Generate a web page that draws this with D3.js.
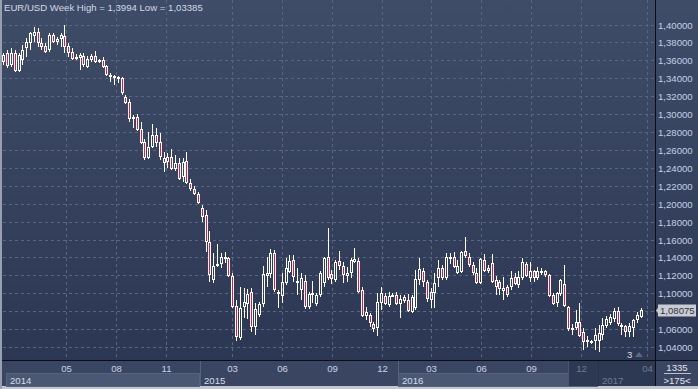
<!DOCTYPE html>
<html><head><meta charset="utf-8">
<script src="https://cdn.jsdelivr.net/npm/d3@7"></script>
<style>body{margin:0;background:#c3c7cf;} svg{display:block;font-family:"Liberation Sans",Arial,sans-serif;}</style>
</head><body><svg id="c" width="698" height="389"></svg>
<script>
// ---- data (weekly EUR/USD candles) ----
const weeks = d3.timeMonday.range(new Date(2014,0,6), new Date(2017,2,21));
const open = [
1.3581,1.3682,1.3548,1.3682,1.3481,1.3604,1.3738,1.3794,1.3872,1.3916,
1.3794,1.3760,1.3715,1.3883,1.3805,1.3838,1.3872,1.3760,1.3693,1.3626,
1.3626,1.3648,1.3526,1.3604,1.3648,1.3581,1.3604,1.3537,1.3414,1.3403,
1.3392,1.3403,1.3191,1.3135,1.2956,1.2967,1.2833,1.2688,1.2510,1.2632,
1.2766,1.2688,1.2510,1.2465,1.2521,1.2387,1.2454,1.2298,1.2476,1.2231,
1.2164,1.2108,1.1951,1.1873,1.1573,1.1148,1.1304,1.1327,1.1383,1.1394,
1.1193,1.0858,1.0500,1.0846,1.0880,1.1014,1.0623,1.0757,1.0880,1.1193,
1.1215,1.1450,1.1003,1.0969,1.1114,1.1237,1.1371,1.1126,1.1036,1.1137,
1.0846,1.0980,1.0880,1.0980,1.1114,1.1405,1.1215,1.1148,1.1360,1.1304,
1.1193,1.1226,1.1349,1.1360,1.1036,1.0746,1.0757,1.0656,1.0612,1.0891,
1.0969,1.0869,1.0969,1.0980,1.0880,1.0958,1.0925,1.0791,1.0835,1.1148,
1.1248,1.1126,1.0925,1.1003,1.1170,1.1282,1.1170,1.1394,1.1405,1.1226,
1.1237,1.1472,1.1405,1.1316,1.1226,1.1114,1.1371,1.1282,1.1338,1.1070,
1.1126,1.1025,1.1070,1.1070,1.1181,1.1092,1.1170,1.1327,1.1170,1.1248,
1.1170,1.1237,1.1248,1.1204,1.0980,1.0891,1.0992,1.1103,1.0846,1.0601,
1.0612,1.0679,1.0567,1.0467,1.0467,1.0467,1.0467,1.0534,1.0634,1.0668,
1.0712,1.0802,1.0645,1.0634,1.0567,1.0612,1.0701,1.0735];
const high = [
1.3682,1.3715,1.3738,1.3715,1.3682,1.3771,1.3849,1.3916,1.3972,1.3961,
1.3849,1.3794,1.3905,1.3905,1.3860,1.3905,1.3994,1.3794,1.3738,1.3671,
1.3682,1.3682,1.3648,1.3671,1.3704,1.3615,1.3637,1.3548,1.3459,1.3436,
1.3425,1.3414,1.3213,1.3168,1.2990,1.3001,1.2912,1.2722,1.2800,1.2889,
1.2845,1.2789,1.2577,1.2565,1.2610,1.2543,1.2510,1.2510,1.2577,1.2275,
1.2197,1.2130,1.1985,1.1929,1.1695,1.1450,1.1550,1.1450,1.1461,1.1405,
1.1226,1.0925,1.1070,1.1059,1.1047,1.1059,1.0891,1.0902,1.1304,1.1405,
1.1494,1.1483,1.1036,1.1226,1.1394,1.1427,1.1427,1.1282,1.1226,1.1204,
1.1014,1.1137,1.1003,1.1248,1.1405,1.1729,1.1260,1.1371,1.1472,1.1349,
1.1293,1.1394,1.1506,1.1394,1.1070,1.0846,1.0779,1.0679,1.1003,1.1070,
1.1003,1.1014,1.1003,1.1014,1.0980,1.0980,1.0992,1.0980,1.1260,1.1394,
1.1282,1.1148,1.1059,1.1226,1.1371,1.1316,1.1450,1.1450,1.1461,1.1371,
1.1472,1.1628,1.1450,1.1349,1.1282,1.1394,1.1438,1.1316,1.1438,1.1193,
1.1148,1.1181,1.1092,1.1248,1.1226,1.1248,1.1394,1.1349,1.1349,1.1260,
1.1293,1.1282,1.1260,1.1215,1.1003,1.1014,1.1159,1.1316,1.0858,1.0656,
1.0813,1.0891,1.0612,1.0523,1.0478,1.0612,1.0645,1.0723,1.0746,1.0768,
1.0835,1.0846,1.0668,1.0645,1.0668,1.0712,1.0791,1.0835];
const low = [
1.3548,1.3514,1.3526,1.3470,1.3470,1.3548,1.3637,1.3715,1.3805,1.3749,
1.3715,1.3682,1.3693,1.3794,1.3771,1.3749,1.3682,1.3637,1.3604,1.3604,
1.3492,1.3526,1.3514,1.3581,1.3570,1.3570,1.3514,1.3425,1.3358,1.3325,
1.3347,1.3213,1.3112,1.2912,1.2845,1.2811,1.2666,1.2487,1.2498,1.2621,
1.2632,1.2487,1.2353,1.2398,1.2376,1.2364,1.2264,1.2242,1.2219,1.2141,
1.2097,1.1996,1.1796,1.1461,1.1126,1.1114,1.1293,1.1282,1.1338,1.1181,
1.0835,1.0467,1.0478,1.0723,1.0712,1.0567,1.0534,1.0735,1.0846,1.1070,
1.1170,1.1014,1.0835,1.0891,1.1092,1.1226,1.1126,1.0980,1.0925,1.0824,
1.0824,1.0891,1.0858,1.0958,1.1070,1.1148,1.1103,1.1126,1.1260,1.1114,
1.1126,1.1170,1.1338,1.1003,1.0735,1.0701,1.0623,1.0567,1.0523,1.0813,
1.0869,1.0846,1.0958,1.0869,1.0723,1.0891,1.0791,1.0779,1.0813,1.1092,
1.1070,1.0902,1.0835,1.0835,1.1070,1.1148,1.1148,1.1327,1.1282,1.1215,
1.1226,1.1394,1.1293,1.1204,1.1103,1.1103,1.1237,1.1226,1.1114,1.0980,
1.0980,1.0925,1.0958,1.1036,1.1092,1.1059,1.1148,1.1181,1.1126,1.1126,
1.1148,1.1204,1.1181,1.0958,1.0869,1.0846,1.0969,1.0846,1.0578,1.0534,
1.0590,1.0511,1.0366,1.0400,1.0433,1.0366,1.0339,1.0478,1.0612,1.0645,
1.0679,1.0634,1.0534,1.0511,1.0511,1.0511,1.0668,1.0723];
const close = [
1.3660,1.3537,1.3682,1.3481,1.3660,1.3715,1.3805,1.3905,1.3916,1.3794,
1.3749,1.3693,1.3883,1.3805,1.3838,1.3883,1.3749,1.3682,1.3615,1.3637,
1.3660,1.3548,1.3615,1.3648,1.3581,1.3604,1.3526,1.3436,1.3436,1.3425,
1.3414,1.3235,1.3124,1.2945,1.2967,1.2822,1.2677,1.2510,1.2632,1.2766,
1.2677,1.2521,1.2454,1.2521,1.2387,1.2454,1.2275,1.2465,1.2231,1.2164,
1.2108,1.2007,1.1851,1.1573,1.1204,1.1304,1.1327,1.1405,1.1405,1.1193,
1.0846,1.0511,1.0835,1.0902,1.0992,1.0623,1.0824,1.0880,1.1215,1.1226,
1.1450,1.1036,1.1014,1.1126,1.1282,1.1360,1.1181,1.1137,1.1170,1.0846,
1.0992,1.1003,1.0980,1.1226,1.1394,1.1170,1.1159,1.1349,1.1304,1.1204,
1.1226,1.1371,1.1383,1.1014,1.0746,1.0791,1.0668,1.0601,1.0902,1.1003,
1.0880,1.0969,1.0980,1.0880,1.0936,1.0913,1.0802,1.0958,1.1159,1.1271,
1.1126,1.0936,1.1014,1.1114,1.1282,1.1170,1.1405,1.1405,1.1293,1.1304,
1.1461,1.1416,1.1316,1.1226,1.1114,1.1383,1.1248,1.1248,1.1126,1.1148,
1.1047,1.1059,1.0980,1.1170,1.1103,1.1181,1.1349,1.1193,1.1248,1.1170,
1.1248,1.1248,1.1204,1.0969,1.0880,1.1003,1.1148,1.0858,1.0601,1.0612,
1.0679,1.0523,1.0455,1.0478,1.0455,1.0534,1.0556,1.0645,1.0712,1.0735,
1.0802,1.0656,1.0623,1.0567,1.0634,1.0701,1.0757,1.08075];
const yTicks = [1.04,1.06,1.08,1.10,1.12,1.14,1.16,1.18,1.20,1.22,1.24,1.26,1.28,1.30,1.32,1.34,1.36,1.38,1.40];
const monthTicks = ["2014-05","2014-08","2014-11","2015-03","2015-06","2015-09","2015-12","2016-03","2016-06","2016-09","2016-12","2017-04"];
const years = [2014,2015,2016,2017];
const title = "EUR/USD Week High = 1,3994 Low = 1,03385";
const lastPrice = 1.08075;
const barCount = "1335", zoomText = ">175<", pageText = "3";
const dimFrom = new Date(2016,10,7);

// ---- layout ----
const W=698, H=389, L=3, R=655, B=360, AX=386;
const svg = d3.select("#c");
const x = d3.scaleTime().domain([weeks[0], weeks[weeks.length-1]]).range([3.3, 640.5]);
const y = d3.scaleLinear().domain([1.04, 1.40]).range([347, 24.5]);
const fmt = v => d3.format(".5f")(v).replace(".", ",");
const parseM = d3.timeParse("%Y-%m");

const defs = svg.append("defs");
const gr = defs.append("linearGradient").attr("id","bg").attr("gradientUnits","userSpaceOnUse")
  .attr("x1",0).attr("y1",0).attr("x2",0).attr("y2",B);
gr.append("stop").attr("offset",0).attr("stop-color","#3f4c68");
gr.append("stop").attr("offset",1).attr("stop-color","#2c3853");

svg.append("rect").attr("width",W).attr("height",H).attr("fill","#c3c7cf");
svg.append("rect").attr("x",0).attr("y",0).attr("width",2).attr("height",H).attr("fill","#98a0b0");
svg.append("rect").attr("x",2).attr("y",0).attr("width",W-2).attr("height",B).attr("fill","url(#bg)");
svg.append("rect").attr("x",2).attr("y",B).attr("width",W-2).attr("height",AX-B).attr("fill","#3a4661");

// grid
const grid = svg.append("g").attr("stroke","#5a6680").attr("stroke-dasharray","3,3").attr("stroke-width",1);
grid.selectAll("line.h").data(yTicks).join("line").attr("class","h")
  .attr("x1",L).attr("x2",R).attr("y1",d=>Math.round(y(d))+0.5).attr("y2",d=>Math.round(y(d))+0.5);
grid.selectAll("line.v").data(monthTicks).join("line").attr("class","v")
  .attr("x1",d=>Math.round(x(parseM(d)))+0.5).attr("x2",d=>Math.round(x(parseM(d)))+0.5)
  .attr("y1",0).attr("y2",B);

// title
svg.append("text").attr("x",4).attr("y",11).attr("fill","#d2d9e6").attr("font-size",9.6).text(title);

// candles
const data = weeks.map((d,i)=>({d,o:open[i],h:high[i],l:low[i],c:close[i]}));
const cg = svg.append("g");
cg.selectAll("g").data(data).join("g").each(function(k){
  const g = d3.select(this);
  const cx = Math.round(x(k.d));
  const top = Math.round(y(Math.max(k.o,k.c)));
  const bot = Math.round(y(Math.min(k.o,k.c)));
  const hi = Math.round(y(k.h)), lo = Math.round(y(k.l));
  const down = k.c < k.o;
  if (bot - top < 2) {
    g.append("line").attr("x1",cx+0.5).attr("x2",cx+0.5).attr("y1",hi).attr("y2",lo).attr("stroke","#fff");
    g.append("rect").attr("x",cx-1).attr("y",top).attr("width",3).attr("height",Math.max(2,bot-top)).attr("fill","#fff");
  } else {
    g.append("line").attr("x1",cx+0.5).attr("x2",cx+0.5).attr("y1",hi).attr("y2",top).attr("stroke","#fff");
    g.append("line").attr("x1",cx+0.5).attr("x2",cx+0.5).attr("y1",bot).attr("y2",lo).attr("stroke","#fff");
    g.append("rect").attr("x",cx-0.5).attr("y",top+0.5).attr("width",2).attr("height",bot-top-1)
      .attr("fill",down?"#e3173e":"none").attr("stroke","#fff").attr("stroke-width",1);
  }
});

// axis lines
svg.append("line").attr("x1",2).attr("x2",W).attr("y1",B+0.5).attr("y2",B+0.5).attr("stroke","#0a0d14");
svg.append("line").attr("x1",R+0.5).attr("x2",R+0.5).attr("y1",0).attr("y2",AX).attr("stroke","#0a0d14");

// y labels (the one hidden behind the last-price marker is not shown, as in the reference)
const py = Math.round(y(lastPrice));
svg.append("g").selectAll("text").data(yTicks.filter(d=>Math.abs(y(d)-py)>9)).join("text")
  .attr("x",658).attr("y",d=>Math.round(y(d))+4).attr("fill","#c4d0e4").attr("font-size",9.6).text(fmt);

// last price marker
svg.append("path").attr("d",`M${R+1},${py+0.5} L${R+4},${py-3.5} L${R+4},${py+4.5} Z`).attr("fill","#c9ccd3");
svg.append("rect").attr("x",R+3).attr("y",py-5.5).attr("width",38).attr("height",12).attr("fill","#c9ccd3");
svg.append("text").attr("x",R+5).attr("y",py+4).attr("fill","#30343e").attr("font-size",9.6).text(fmt(lastPrice));

// page marker
svg.append("text").attr("x",627).attr("y",358).attr("fill","#d0d8e6").attr("font-size",9.6).text(pageText);
svg.append("path").attr("d","M635,357 L639,352 L643,357 Z").attr("fill","#5d6983");

// x-axis: year boxes
const yr = svg.append("g");
years.forEach((Y,i)=>{
  const x0 = Math.max(6, Math.round(x(new Date(Y,0,1))));
  const x1 = Math.min(R, Math.round(x(new Date(Y+1,0,1))));
  if (i%2===0) {
    yr.append("rect").attr("x",x0+0.5).attr("y",373.5).attr("width",Math.max(0,x1-x0-1)).attr("height",13)
      .attr("fill","#4b5874").attr("stroke","#56637e");
  }
  if (Y>2014) yr.append("line").attr("x1",x0+0.5).attr("x2",x0+0.5).attr("y1",B+1).attr("y2",AX).attr("stroke","#56637e");
});
// dimmed tail region
const dx = Math.round(x(dimFrom));
svg.append("rect").attr("x",dx).attr("y",B+1).attr("width",R-dx).attr("height",AX-B-1).attr("fill","#2d3953");
svg.append("line").attr("x1",dx+0.5).attr("x2",dx+0.5).attr("y1",B+1).attr("y2",AX).attr("stroke","#4a5670");
svg.append("line").attr("x1",Math.round(x(new Date(2017,0,1)))+0.5).attr("x2",Math.round(x(new Date(2017,0,1)))+0.5)
  .attr("y1",B+1).attr("y2",AX).attr("stroke","#27324a");

svg.append("g").selectAll("text").data(monthTicks).join("text")
  .attr("x",d=>Math.round(x(parseM(d)))+0.5).attr("y",372).attr("text-anchor","middle").attr("font-size",9.6)
  .attr("fill",d=>parseM(d)>=dimFrom?"#6e7a92":"#c8d3e6").text(d=>d.slice(5));
svg.append("g").selectAll("text").data(years).join("text")
  .attr("x",Y=>Math.max(6, Math.round(x(new Date(Y,0,1))))+4).attr("y",384).attr("font-size",9.6)
  .attr("fill",Y=>new Date(Y,0,1)>=dimFrom?"#6e7a92":"#d4dcea").text(Y=>Y);

// bottom-right info box
svg.append("text").attr("x",677).attr("y",371).attr("text-anchor","middle").attr("font-size",9.6).attr("fill","#e2e7ef").text(barCount);
svg.append("line").attr("x1",664).attr("x2",691).attr("y1",373.5).attr("y2",373.5).attr("stroke","#b9c1cf");
svg.append("text").attr("x",677).attr("y",384).attr("text-anchor","middle").attr("font-size",9.6).attr("fill","#e2e7ef").text(zoomText);
</script></body></html>
